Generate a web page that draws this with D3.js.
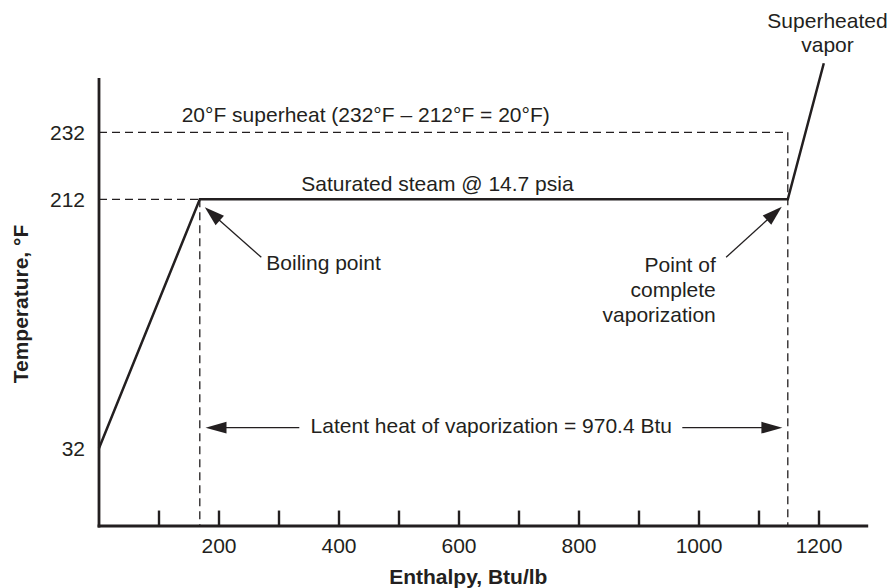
<!DOCTYPE html>
<html>
<head>
<meta charset="utf-8">
<script src="https://cdn.jsdelivr.net/npm/d3@7"></script>
<style>
  html, body { margin: 0; padding: 0; background: #ffffff; }
  svg { display: block; }
  text { font-family: "Liberation Sans", Arial, Helvetica, sans-serif; fill: #231f20; }
</style>
</head>
<body>
<svg id="chart" width="892" height="588"></svg>
<script>
// ---------------- data ----------------
const enthalpy    = [0, 168, 1148, 1208];      // Btu/lb
const temperature = [32, 212, 212, 252.6];     // °F
const boilingEnthalpy = 168;
const vaporEnthalpy   = 1148;
const satTemp   = 212;
const superTemp = 232;
const xMinorTicks = [100, 200, 300, 400, 500, 600, 700, 800, 900, 1000, 1100, 1200];
const xTickLabels = [200, 400, 600, 800, 1000, 1200];
const yTickValues = [32, 212, 232];
const xExtent = [0, 1282];
const yExtent = [-24.2, 248.2];
const labels = {
  xTitle: "Enthalpy, Btu/lb",
  yTitle: "Temperature, °F",
  superheat: "20°F superheat (232°F – 212°F = 20°F)",
  saturated: "Saturated steam @ 14.7 psia",
  boiling: "Boiling point",
  complete: ["Point of", "complete", "vaporization"],
  superVapor: ["Superheated", "vapor"],
  latent: "Latent heat of vaporization = 970.4 Btu"
};
const latentArrowTemp = 46.9;

// ---------------- drawing ----------------
const ink = "#231f20";
const svg = d3.select("#chart");

const x = d3.scaleLinear().domain(xExtent).range([99, 868.2]);
// the original figure uses a non-uniform temperature axis
const y = d3.scaleLinear().domain([32, 212, 232]).range([448.3, 199.3, 132.3]);

const x0 = x(0), yBottom = y(yExtent[0]), yTop = y(yExtent[1]);

// dashed guide lines
const dash = "8,5";
const g = svg.append("g");
g.append("line").attr("x1", x0).attr("x2", x(boilingEnthalpy)).attr("y1", y(satTemp)).attr("y2", y(satTemp))
  .attr("stroke", ink).attr("stroke-width", 1.3).attr("stroke-dasharray", dash);
g.append("line").attr("x1", x(boilingEnthalpy)).attr("x2", x(boilingEnthalpy)).attr("y1", y(satTemp)).attr("y2", yBottom)
  .attr("stroke", ink).attr("stroke-width", 1.3).attr("stroke-dasharray", dash);
g.append("line").attr("x1", x0).attr("x2", x(vaporEnthalpy)).attr("y1", y(superTemp)).attr("y2", y(superTemp))
  .attr("stroke", ink).attr("stroke-width", 1.3).attr("stroke-dasharray", dash);
g.append("line").attr("x1", x(vaporEnthalpy)).attr("x2", x(vaporEnthalpy)).attr("y1", y(superTemp)).attr("y2", yBottom)
  .attr("stroke", ink).attr("stroke-width", 1.3).attr("stroke-dasharray", dash);

// main curve
const pts = enthalpy.map((h, i) => [h, temperature[i]]);
svg.append("path")
  .attr("d", d3.line().x(d => x(d[0])).y(d => y(d[1]))(pts))
  .attr("fill", "none").attr("stroke", ink).attr("stroke-width", 2.5)
  .attr("stroke-linejoin", "miter");

// axes
svg.append("line").attr("x1", x0).attr("x2", x0).attr("y1", yTop).attr("y2", yBottom + 1.5)
  .attr("stroke", ink).attr("stroke-width", 2.8);
svg.append("line").attr("x1", x0 - 1.4).attr("x2", x(xExtent[1])).attr("y1", yBottom).attr("y2", yBottom)
  .attr("stroke", ink).attr("stroke-width", 3);

svg.append("g").selectAll("line").data(xMinorTicks).join("line")
  .attr("x1", d => x(d)).attr("x2", d => x(d))
  .attr("y1", yBottom).attr("y2", yBottom - 15.5)
  .attr("stroke", ink).attr("stroke-width", 2.4);

svg.append("g").selectAll("text").data(xTickLabels).join("text")
  .attr("x", d => x(d)).attr("y", yBottom + 26.8)
  .attr("text-anchor", "middle").attr("font-size", 21)
  .text(d => d);

svg.append("g").selectAll("text").data(yTickValues).join("text")
  .attr("x", x0 - 14).attr("y", d => y(d) + 7.6)
  .attr("text-anchor", "end").attr("font-size", 21)
  .text(d => d);

// axis titles
svg.append("text").attr("x", (x0 + x(1282)) / 2 - 15.3).attr("y", 584)
  .attr("text-anchor", "middle").attr("font-size", 21).attr("font-weight", "bold")
  .text(labels.xTitle);
svg.append("text")
  .attr("transform", `translate(28,${(yTop + yBottom) / 2 + 2})rotate(-90)`)
  .attr("text-anchor", "middle").attr("font-size", 21).attr("font-weight", "bold")
  .text(labels.yTitle);

// annotations
function arrow(x1, y1, x2, y2, L = 20, W = 6.3) {
  const dx = x2 - x1, dy = y2 - y1, len = Math.hypot(dx, dy);
  const ux = dx / len, uy = dy / len;
  const bx = x2 - ux * L, by = y2 - uy * L;
  svg.append("line").attr("x1", x1).attr("y1", y1).attr("x2", bx + ux * 2).attr("y2", by + uy * 2)
    .attr("stroke", ink).attr("stroke-width", 1.3);
  svg.append("path")
    .attr("d", `M${x2},${y2}L${bx - uy * W},${by + ux * W}L${bx + uy * W},${by - ux * W}Z`)
    .attr("fill", ink);
}

svg.append("text").attr("x", 181.7).attr("y", y(superTemp) - 10)
  .attr("font-size", 21).text(labels.superheat);

svg.append("text").attr("x", 437.5).attr("y", y(satTemp) - 8.6)
  .attr("text-anchor", "middle").attr("font-size", 21).text(labels.saturated);

svg.append("text").attr("x", x(boilingEnthalpy) + 66.5).attr("y", y(satTemp) + 70.7)
  .attr("font-size", 21).text(labels.boiling);
arrow(x(boilingEnthalpy) + 61.5, y(satTemp) + 58, x(boilingEnthalpy) + 5, y(satTemp) + 8);

svg.append("text").attr("text-anchor", "end").attr("font-size", 21)
  .selectAll("tspan").data(labels.complete).join("tspan")
  .attr("x", x(vaporEnthalpy) - 72).attr("y", (d, i) => y(satTemp) + 72.4 + i * 25)
  .text(d => d);
arrow(x(vaporEnthalpy) - 61.7, y(satTemp) + 58, x(vaporEnthalpy) - 6, y(satTemp) + 7.4);

svg.append("text").attr("text-anchor", "middle").attr("font-size", 21)
  .selectAll("tspan").data(labels.superVapor).join("tspan")
  .attr("x", 827.5).attr("y", (d, i) => 28.3 + i * 23.4)
  .text(d => d);

const ly = y(latentArrowTemp);
svg.append("text").attr("x", 491.3).attr("y", ly + 5.6)
  .attr("text-anchor", "middle").attr("font-size", 21).text(labels.latent);
arrow(299.3, ly, x(boilingEnthalpy) + 5.7, ly, 21, 5.9);
arrow(682.3, ly, x(vaporEnthalpy) - 5.4, ly, 21, 5.9);
</script>
</body>
</html>
